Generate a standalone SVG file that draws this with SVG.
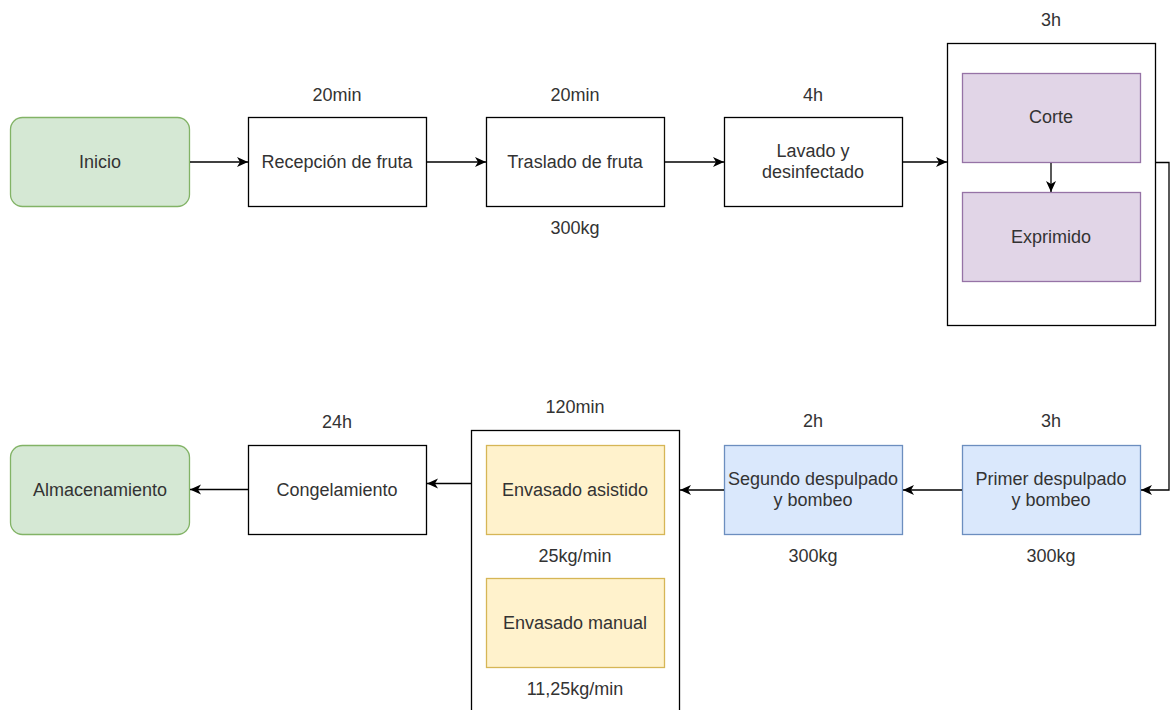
<svg xmlns="http://www.w3.org/2000/svg" width="1172" height="710" viewBox="0 0 1172 710">
<defs>
<marker id="arr" markerWidth="12" markerHeight="11" refX="11" refY="5" orient="auto" markerUnits="userSpaceOnUse">
<path d="M0,0 L11,5 L0,10 L3,5 Z" fill="#000"/>
</marker>
</defs>
<style>
text{font-family:"Liberation Sans",Arial,sans-serif;font-size:18px;fill:#333;text-anchor:middle;dominant-baseline:central}
.plain{fill:#fff;stroke:#000;stroke-width:1.3}
.green{fill:#d5e8d4;stroke:#82b366;stroke-width:1.3}
.purple{fill:#e1d5e7;stroke:#9673a6;stroke-width:1.3}
.blue{fill:#dae8fc;stroke:#6c8ebf;stroke-width:1.3}
.yellow{fill:#fff2cc;stroke:#d6b656;stroke-width:1.3}
.edge{fill:none;stroke:#000;stroke-width:1.3;marker-end:url(#arr)}
</style>
<rect width="1172" height="710" fill="#fff"/>
<g id="inicio"><rect class="green" x="10.5" y="117.5" width="179" height="89" rx="12"/><text x="100" y="162">Inicio</text></g>
<g id="recepcion"><rect class="plain" x="248.5" y="117.5" width="178" height="89"/><text x="337" y="162">Recepción de fruta</text><text x="337" y="95">20min</text></g>
<g id="traslado"><rect class="plain" x="486.5" y="117.5" width="178" height="89"/><text x="575" y="162">Traslado de fruta</text><text x="575" y="95">20min</text><text x="575" y="228">300kg</text></g>
<g id="lavado"><rect class="plain" x="724.5" y="117.5" width="178" height="89"/><text x="813" y="151">Lavado y</text><text x="813" y="172">desinfectado</text><text x="813" y="95">4h</text></g>
<g id="grupo1"><rect class="plain" x="947.5" y="43.5" width="208" height="282"/><text x="1051" y="20">3h</text></g>
<g id="corte"><rect class="purple" x="962.5" y="73.5" width="178" height="89"/><text x="1051" y="117">Corte</text></g>
<g id="exprimido"><rect class="purple" x="962.5" y="192.5" width="178" height="89"/><text x="1051" y="237">Exprimido</text></g>
<g id="primer"><rect class="blue" x="962.5" y="445.5" width="178" height="89"/><text x="1051" y="479">Primer despulpado</text><text x="1051" y="500">y bombeo</text><text x="1051" y="421">3h</text><text x="1051" y="556">300kg</text></g>
<g id="segundo"><rect class="blue" x="724.5" y="445.5" width="178" height="89"/><text x="813" y="479">Segundo despulpado</text><text x="813" y="500">y bombeo</text><text x="813" y="421">2h</text><text x="813" y="556">300kg</text></g>
<g id="grupo2"><rect class="plain" x="471.5" y="430.5" width="208" height="300"/><text x="575" y="407">120min</text><text x="575" y="556">25kg/min</text><text x="575" y="689">11,25kg/min</text></g>
<g id="asistido"><rect class="yellow" x="486.5" y="445.5" width="178" height="89"/><text x="575" y="490">Envasado asistido</text></g>
<g id="manual"><rect class="yellow" x="486.5" y="578.5" width="178" height="89"/><text x="575" y="623">Envasado manual</text></g>
<g id="congelamiento"><rect class="plain" x="248.5" y="445.5" width="178" height="89"/><text x="337" y="490">Congelamiento</text><text x="337" y="422">24h</text></g>
<g id="almacenamiento"><rect class="green" x="10.5" y="445.5" width="179" height="89" rx="12"/><text x="100" y="490">Almacenamiento</text></g>
<g id="connectors">
<path class="edge" d="M190,162 L248,162"/>
<path class="edge" d="M427,162 L486,162"/>
<path class="edge" d="M665,162 L724,162"/>
<path class="edge" d="M903,162 L947,162"/>
<path class="edge" d="M1051,163 L1051,192"/>
<path class="edge" d="M1156,162.5 L1169,162.5 L1169,490 L1141,490"/>
<path class="edge" d="M962,490 L903,490"/>
<path class="edge" d="M724,490 L680,490"/>
<path class="edge" d="M471,483.5 L427,483.5"/>
<path class="edge" d="M248,489.5 L190,489.5"/>
</g>
</svg>
